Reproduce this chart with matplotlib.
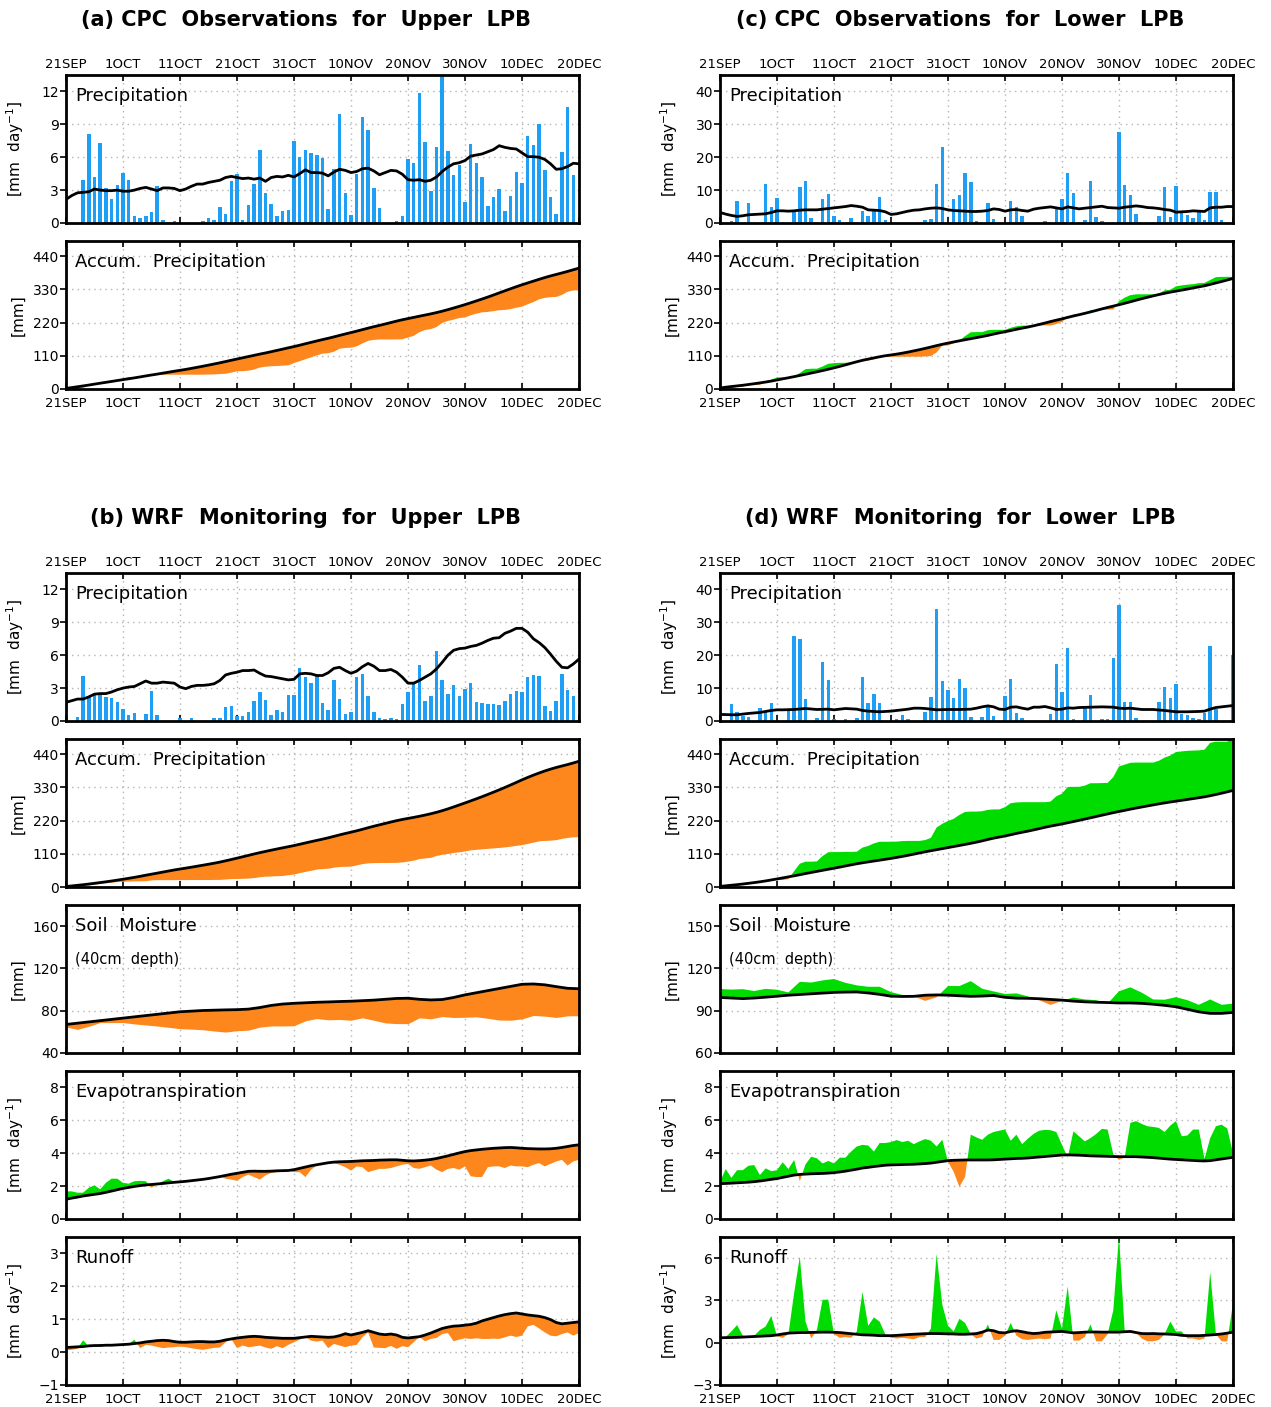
import numpy as np
import matplotlib
matplotlib.use('Agg')
import matplotlib.pyplot as plt

# days since 21 SEP, daily data (0..90 -> 21SEP..20DEC)
days = np.arange(91)
days2 = np.arange(0, 91, 2)   # soil moisture is stored every 2 days

date_ticks = [0, 10, 20, 30, 40, 50, 60, 70, 80, 90]
date_labels = ['21SEP', '1OCT', '11OCT', '21OCT', '31OCT', '10NOV', '20NOV', '30NOV', '10DEC', '20DEC']

# ---- (a) CPC observations, upper LPB ----
cpc_up_prcp = [0, 0, 0, 3.9, 8.1, 4.2, 7.3, 3.2, 2.2, 3.5,
               4.6, 3.9, 0.6, 0.45, 0.6, 1.0, 3.4, 0.25, 0, 0.15,
               0, 0, 0, 0, 0.15, 0.45, 0.25, 1.45, 0.8, 3.8,
               4.5, 0.25, 1.65, 3.6, 6.7, 2.75, 1.75, 0.65, 1.1, 1.15,
               7.5, 6.0, 6.7, 6.4, 6.2, 5.95, 1.3, 4.9, 9.9, 2.75,
               0.75, 4.5, 9.7, 8.5, 3.2, 1.35, 0, 0, 0.15, 0.6,
               5.8, 5.5, 11.9, 7.4, 2.9, 6.95, 13.5, 6.6, 4.4, 5.3,
               1.9, 7.2, 5.5, 4.2, 1.55, 2.4, 3.1, 1.1, 2.5, 4.65,
               3.65, 7.9, 7.15, 9.05, 4.85, 2.4, 0.8, 6.5, 10.6, 4.4,
               0]
cpc_up_clim = [2.15, 2.5, 2.75, 2.8, 2.85, 3.1, 3.0, 2.95, 2.95, 3.0,
               2.9, 2.9, 3.0, 3.15, 3.25, 3.1, 2.95, 3.2, 3.2, 3.15,
               2.95, 3.1, 3.35, 3.55, 3.55, 3.7, 3.8, 3.9, 4.15, 4.25,
               4.15, 4.05, 4.1, 4.0, 4.1, 3.8, 4.15, 4.25, 4.2, 4.35,
               4.2, 4.5, 4.85, 4.6, 4.6, 4.55, 4.3, 4.65, 4.9, 4.8,
               4.6, 4.7, 4.95, 5.0, 4.75, 4.4, 4.6, 4.8, 4.75, 4.45,
               3.95, 3.9, 3.95, 3.8, 3.9, 4.2, 4.7, 5.1, 5.4, 5.5,
               5.7, 6.1, 6.2, 6.3, 6.5, 6.7, 7.05, 6.9, 6.8, 6.75,
               6.4, 6.05, 6.05, 6.0, 5.8, 5.4, 4.9, 4.95, 5.15, 5.45,
               5.4]

# ---- (c) CPC observations, lower LPB ----
cpc_lo_prcp = [0, 0, 0.7, 6.8, 0, 6.2, 0, 0, 12.0, 5.0,
               7.7, 0, 0, 3.5, 10.8, 12.9, 1.6, 0, 7.4, 8.9,
               2.2, 1.0, 0, 1.6, 0, 3.6, 2.2, 3.7, 8.0, 1.0,
               0, 0, 0, 0, 0, 0, 0.9, 1.3, 12.0, 23.0,
               0, 7.4, 8.6, 15.3, 12.6, 0.6, 0, 6.2, 1.2, 0,
               0, 6.8, 4.9, 2.2, 0, 0, 0, 0.6, 0, 4.5,
               7.4, 15.3, 9.0, 0, 1.0, 12.9, 1.9, 0.6, 0, 0,
               27.6, 11.7, 8.4, 2.8, 0, 0, 0, 2.2, 11.0, 1.8,
               11.4, 3.0, 2.5, 1.6, 3.3, 1.0, 9.5, 9.5, 1.0, 0,
               0]
cpc_lo_clim = [3.2, 2.7, 2.3, 2.0, 2.2, 2.5, 2.6, 2.7, 2.8, 3.2,
               3.7, 3.7, 3.6, 3.7, 3.9, 4.0, 4.0, 4.0, 4.2, 4.4,
               4.6, 4.8, 5.0, 5.3, 5.1, 4.8, 4.0, 3.9, 3.8, 3.4,
               2.6, 2.8, 3.2, 3.6, 3.9, 4.0, 4.3, 4.5, 4.6, 4.4,
               4.0, 3.8, 3.7, 3.6, 3.5, 3.5, 3.6, 3.8, 4.3, 4.1,
               3.6, 4.0, 4.1, 3.8, 3.6, 4.2, 4.5, 4.7, 4.9, 4.6,
               4.3, 4.9, 4.6, 4.3, 4.5, 4.7, 4.9, 5.1, 4.7, 4.6,
               4.5, 4.8, 5.0, 5.2, 5.0, 4.7, 4.6, 4.4, 4.1, 3.9,
               3.3, 3.4, 3.5, 3.7, 3.6, 3.5, 4.6, 4.8, 4.8, 5.0,
               5.0]

# ---- (b) WRF monitoring, upper LPB ----
wrf_up_prcp = [0.5, 0, 0.35, 4.1, 2.2, 2.45, 2.35, 2.2, 2.1, 1.75,
               1.1, 0.55, 0.75, 0, 0.6, 2.75, 0.55, 0, 0, 0,
               0.25, 0, 0.25, 0, 0, 0, 0.25, 0.25, 1.25, 1.35,
               0.45, 0.45, 0.8, 1.8, 2.65, 1.9, 0.55, 1.0, 0.8, 2.4,
               2.4, 4.85, 4.0, 3.5, 4.15, 1.6, 1.0, 3.75, 2.0, 0.65,
               0.8, 4.0, 4.3, 2.3, 0.8, 0.25, 0.15, 0.25, 0.15, 1.55,
               2.65, 3.5, 5.1, 1.8, 2.3, 6.4, 3.75, 2.5, 3.3, 2.3,
               2.95, 3.5, 1.7, 1.6, 1.55, 1.55, 1.45, 1.8, 2.45, 2.7,
               2.65, 4.0, 4.2, 4.1, 1.35, 0.9, 1.8, 4.3, 2.85, 2.3,
               0]
wrf_up_prcp_clim = [1.7, 1.85, 2.0, 2.0, 2.2, 2.45, 2.5, 2.5, 2.65, 2.85,
                    3.0, 3.1, 3.15, 3.4, 3.65, 3.45, 3.45, 3.55, 3.5, 3.45,
                    3.1, 2.95, 3.15, 3.25, 3.25, 3.3, 3.4, 3.7, 4.2, 4.35,
                    4.45, 4.6, 4.6, 4.65, 4.35, 4.1, 4.05, 3.95, 3.85, 3.75,
                    3.8, 4.3, 4.35, 4.3, 4.15, 4.15, 4.4, 4.8, 4.9, 4.6,
                    4.35, 4.55, 4.95, 5.25, 5.0, 4.6, 4.6, 4.7, 4.45, 4.0,
                    3.45, 3.45, 3.7, 4.0, 4.3, 4.75, 5.35, 6.0, 6.45, 6.6,
                    6.65, 6.8, 6.9, 7.1, 7.35, 7.55, 7.6, 8.0, 8.2, 8.45,
                    8.45, 8.1, 7.5, 7.15, 6.7, 6.1, 5.45, 4.9, 4.85, 5.2,
                    5.65]
wrf_up_soil = [64.6, 62.4, 65.3, 68.8, 68.8, 68.8, 67.5, 66.5, 65.5, 64.3,
               63.0, 62.6, 62.0, 60.8, 59.8, 61.1, 61.6, 64.5, 65.6, 65.6,
               65.8, 70.5, 72.6, 71.4, 71.7, 71.0, 73.3, 71.0, 68.5, 67.8,
               67.8, 73.3, 72.3, 74.5, 73.6, 73.8, 74.2, 72.8, 71.2, 71.0,
               72.3, 75.5, 74.9, 73.6, 75.2, 75.2]
wrf_up_soil_clim = [67, 68.2, 69.4, 70.6, 71.8, 73, 74.2, 75.4, 76.6, 77.8,
                    79, 79.6, 80.2, 80.5, 80.8, 81, 81.5, 83, 85, 86.3,
                    87, 87.5, 88, 88.3, 88.7, 89, 89.5, 90, 90.8, 91.6,
                    91.8, 90.8, 90.2, 90.6, 92.5, 95, 97, 99, 101, 103,
                    105, 105.3, 104.5, 102.8, 101.2, 100.8]
wrf_up_et = [1.68, 1.68, 1.6, 1.6, 1.9, 2.05, 1.8, 2.2, 2.45, 2.45,
             2.2, 2.15, 2.3, 2.32, 2.3, 1.9, 2.1, 2.3, 2.45, 2.25,
             2.28, 2.33, 2.35, 2.3, 2.42, 2.48, 2.55, 2.6, 2.45, 2.4,
             2.32, 2.55, 2.7, 2.55, 2.4, 2.65, 2.8, 2.85, 2.9, 2.95,
             2.85, 2.85, 2.55, 3.0, 3.25, 3.35, 3.4, 3.4, 3.3, 3.15,
             2.95, 3.2, 3.15, 2.85, 2.95, 3.05, 3.05, 3.1, 3.2, 3.3,
             3.35, 3.1, 3.05, 3.15, 3.25, 3.0, 2.85, 3.05, 3.1, 3.0,
             3.2, 2.6, 2.55, 2.55, 3.15, 3.2, 3.2, 3.1, 3.25, 3.2,
             3.2, 3.15, 3.3, 3.4, 3.2, 3.35, 3.5, 3.6, 3.25, 3.5,
             3.6]
wrf_up_et_clim = [1.2, 1.27, 1.33, 1.4, 1.45, 1.5, 1.55, 1.62, 1.7, 1.78,
                  1.86, 1.92, 1.98, 2.03, 2.07, 2.1, 2.13, 2.16, 2.2, 2.23,
                  2.26, 2.29, 2.33, 2.37, 2.41, 2.46, 2.52, 2.58, 2.65, 2.72,
                  2.78, 2.84, 2.9, 2.91, 2.9, 2.9, 2.91, 2.93, 2.94, 2.95,
                  3.0, 3.08, 3.16, 3.24, 3.3, 3.36, 3.42, 3.46, 3.48, 3.49,
                  3.5, 3.52, 3.54, 3.55, 3.56, 3.58, 3.59, 3.6, 3.6, 3.57,
                  3.54, 3.53, 3.55, 3.58, 3.62, 3.68, 3.76, 3.84, 3.93, 4.02,
                  4.1, 4.16, 4.2, 4.24, 4.27, 4.3, 4.32, 4.34, 4.35, 4.33,
                  4.3, 4.28, 4.27, 4.26, 4.26, 4.27, 4.3, 4.35, 4.41, 4.47,
                  4.51]
wrf_up_ro = [0.06, 0.07, 0.1, 0.36, 0.17, 0.19, 0.25, 0.2, 0.22, 0.21,
             0.23, 0.24, 0.38, 0.12, 0.22, 0.2, 0.16, 0.12, 0.14, 0.15,
             0.17, 0.15, 0.12, 0.09, 0.07, 0.1, 0.13, 0.14, 0.3, 0.4,
             0.12, 0.2, 0.15, 0.17, 0.2, 0.14, 0.1, 0.18, 0.12, 0.22,
             0.3, 0.38, 0.46, 0.35, 0.32, 0.35, 0.12, 0.25, 0.2, 0.15,
             0.2, 0.22, 0.45, 0.6, 0.14, 0.13, 0.12, 0.19, 0.1, 0.18,
             0.15, 0.3, 0.46, 0.33, 0.4, 0.43, 0.55, 0.58, 0.33, 0.38,
             0.42, 0.4, 0.42, 0.4, 0.4, 0.41, 0.4, 0.45, 0.5, 0.46,
             0.5, 0.78, 0.83, 0.72, 0.6, 0.5, 0.48, 0.55, 0.6, 0.5,
             0.58]
wrf_up_ro_clim = [0.14, 0.15, 0.16, 0.17, 0.19, 0.2, 0.2, 0.21, 0.21, 0.22,
                  0.23, 0.24, 0.26, 0.28, 0.31, 0.33, 0.35, 0.36, 0.35, 0.32,
                  0.30, 0.30, 0.31, 0.32, 0.32, 0.31, 0.31, 0.33, 0.37, 0.40,
                  0.43, 0.45, 0.47, 0.48, 0.47, 0.45, 0.44, 0.43, 0.42, 0.42,
                  0.42, 0.44, 0.46, 0.48, 0.47, 0.46, 0.45, 0.46, 0.5, 0.56,
                  0.52, 0.56, 0.6, 0.65, 0.6, 0.55, 0.53, 0.55, 0.52, 0.45,
                  0.43, 0.45, 0.47, 0.52, 0.58, 0.65, 0.72, 0.76, 0.79, 0.8,
                  0.82, 0.84, 0.88, 0.95, 1.0, 1.05, 1.1, 1.14, 1.17, 1.19,
                  1.16, 1.13, 1.11, 1.09, 1.05, 0.99, 0.9, 0.86, 0.88, 0.9,
                  0.92]

# ---- (d) WRF monitoring, lower LPB ----
wrf_lo_prcp = [0, 0, 5.2, 2.8, 1.6, 1.3, 0, 4.0, 2.7, 5.5,
               0, 0, 3.5, 25.7, 24.8, 6.8, 0, 0.9, 17.8, 12.6,
               0.5, 0, 0.5, 0, 0.8, 13.5, 5.5, 8.3, 5.5, 0,
               0, 0.5, 1.8, 0.5, 0, 0, 2.8, 7.3, 34.2, 12.3,
               9.5, 7.0, 12.9, 9.9, 1.2, 0, 1.2, 4.5, 1.5, 0,
               7.6, 12.9, 2.5, 0.9, 0, 0, 0, 0, 2.1, 17.2,
               8.9, 22.1, 0.5, 0, 4.0, 8.0, 0, 0.5, 0.5, 19.3,
               35.4, 5.9, 5.9, 0.9, 0, 0, 0, 5.9, 10.4, 7.1,
               11.4, 2.2, 1.8, 0.9, 0.6, 2.5, 22.7, 3.5, 0, 0,
               20.0]
wrf_lo_prcp_clim = [2.0, 1.95, 1.9, 1.9, 2.1, 2.3, 2.45, 2.6, 2.9, 3.2,
                    3.4, 3.4, 3.45, 3.5, 3.65, 3.8, 3.65, 3.5, 3.55, 3.6,
                    3.4, 3.6, 3.8, 3.7, 3.6, 3.2, 3.0, 2.9, 2.8, 2.9,
                    3.0, 3.2, 3.4, 3.6, 3.9, 3.9, 3.8, 3.6, 3.4, 3.45,
                    3.5, 3.5, 3.5, 3.55, 3.6, 3.9, 4.3, 4.6, 4.3, 3.6,
                    3.5, 4.2, 4.3, 3.9, 3.6, 4.2, 4.2, 4.4, 4.0, 3.5,
                    3.6, 4.0, 3.9, 4.1, 4.15, 4.2, 4.25, 4.3, 4.25, 4.2,
                    3.9, 3.8, 3.9, 3.7, 3.5, 3.5, 3.5, 3.35, 3.2, 3.0,
                    2.8, 2.8, 2.8, 2.85, 2.9, 3.0, 3.6, 4.1, 4.3, 4.5,
                    4.7]
wrf_lo_soil = [105.4, 105.0, 105.3, 104.0, 105.5, 104.9, 103.0, 110.5, 110.0, 111.5,
               112.5, 109.8, 108.0, 107.0, 107.0, 103.2, 101.2, 100.1, 97.0, 99.5,
               107.5, 107.5, 111.0, 105.6, 103.7, 101.9, 102.3, 100.2, 97.5, 94.1,
               97.0, 99.4, 98.0, 97.5, 95.0, 103.8, 106.6, 102.8, 98.0, 97.8,
               99.6, 97.5, 94.2, 98.0, 94.2, 95.0]
wrf_lo_soil_clim = [99.4, 99.0, 98.6, 99.0, 99.6, 100.3, 101.0, 101.5, 102.0, 102.5,
                    103.0, 103.2, 103.3, 102.6, 101.6, 100.3, 100.1, 100.2, 101.0, 101.2,
                    101.0, 100.6, 100.2, 100.4, 100.8, 99.5, 98.9, 98.8, 98.5, 98.0,
                    97.5, 96.8, 96.3, 96.0, 95.8, 95.5, 95.5, 95.2, 94.6, 93.8,
                    92.8, 91.0, 89.2, 88.1, 88.1, 88.8]
wrf_lo_et = [2.26, 3.04, 2.5, 2.97, 2.97, 3.24, 3.28, 2.67, 3.08, 2.91,
             2.97, 3.45, 3.04, 3.59, 2.3, 3.32, 3.79, 3.69, 3.38, 3.53,
             3.38, 3.73, 3.73, 4.1, 4.41, 4.51, 4.47, 4.1, 4.62, 4.62,
             4.68, 4.8, 4.68, 4.76, 4.55, 4.72, 4.86, 4.76, 4.41, 4.82,
             3.49, 2.87, 1.95, 2.56, 5.13, 4.96, 4.82, 5.13, 5.29, 5.37,
             5.44, 4.76, 5.13, 4.55, 4.88, 5.17, 5.37, 5.42, 5.4, 5.29,
             4.51, 3.73, 5.33, 5.03, 4.72, 4.92, 5.17, 5.48, 5.44, 3.94,
             3.59, 3.75, 5.85, 5.95, 5.78, 5.64, 5.6, 5.54, 5.29, 5.68,
             5.95, 5.03, 5.08, 5.44, 5.44, 3.65, 4.92, 5.64, 5.74, 5.5,
             4.0]
wrf_lo_et_clim = [2.15, 2.16, 2.18, 2.2, 2.22, 2.24, 2.27, 2.31, 2.36, 2.41,
                  2.46, 2.53, 2.6, 2.67, 2.71, 2.73, 2.75, 2.76, 2.77, 2.79,
                  2.82, 2.86, 2.91, 2.97, 3.03, 3.1, 3.14, 3.19, 3.23, 3.27,
                  3.29, 3.3, 3.31, 3.32, 3.33, 3.35, 3.37, 3.4, 3.45, 3.5,
                  3.55, 3.57, 3.58, 3.59, 3.59, 3.59, 3.59, 3.59, 3.6, 3.62,
                  3.64, 3.66, 3.68, 3.69, 3.71, 3.74, 3.77, 3.8, 3.83, 3.86,
                  3.89, 3.9, 3.89, 3.88, 3.86, 3.84, 3.83, 3.82, 3.81, 3.8,
                  3.79, 3.79, 3.79, 3.79, 3.77, 3.75, 3.73, 3.7, 3.67, 3.64,
                  3.62, 3.6, 3.58, 3.56, 3.54, 3.53, 3.55, 3.6, 3.65, 3.7,
                  3.75]
wrf_lo_ro = [0.3, 0.4, 0.8, 1.25, 0.5, 0.45, 0.5, 0.9, 1.15, 1.9,
             0.45, 0.35, 0.6, 3.5, 6.1, 1.5, 0.3, 0.9, 3.05, 3.05,
             0.6, 0.35, 0.4, 0.35, 0.8, 3.6, 1.2, 1.8, 1.5, 0.6,
             0.35, 0.3, 0.35, 0.3, 0.25, 0.4, 0.4, 1.0, 6.3, 2.7,
             1.2, 0.8, 1.7, 1.4, 0.6, 0.3, 0.4, 1.3, 0.2, 0.2,
             0.5, 1.4, 0.5, 0.25, 0.2, 0.25, 0.3, 0.25, 0.3, 2.3,
             1.0, 4.0, 0.15, 0.15, 0.4, 1.3, 0.1, 0.1, 0.6, 2.3,
             7.6, 0.8, 0.8, 0.7, 0.3, 0.1, 0.1, 0.2, 0.6, 1.5,
             0.8, 0.8, 0.3, 0.3, 0.2, 0.3, 5.0, 0.6, 0.1, 0.1,
             2.8]
wrf_lo_ro_clim = [0.35, 0.36, 0.37, 0.38, 0.4, 0.42, 0.44, 0.46, 0.48, 0.5,
                  0.55, 0.62, 0.68, 0.7, 0.72, 0.72, 0.73, 0.74, 0.75, 0.75,
                  0.74, 0.72, 0.68, 0.64, 0.6, 0.56, 0.55, 0.53, 0.5, 0.5,
                  0.5, 0.52, 0.55, 0.58, 0.6, 0.62, 0.64, 0.65, 0.65, 0.64,
                  0.63, 0.62, 0.6, 0.6, 0.62, 0.65, 0.75, 0.9, 0.85, 0.72,
                  0.7, 0.8, 0.85, 0.78, 0.7, 0.65, 0.68, 0.74, 0.76, 0.78,
                  0.8, 0.75, 0.7, 0.72, 0.75, 0.76, 0.76, 0.75, 0.75, 0.75,
                  0.75, 0.78, 0.8, 0.72, 0.65, 0.64, 0.65, 0.63, 0.62, 0.6,
                  0.58, 0.52, 0.5, 0.5, 0.5, 0.52, 0.55, 0.58, 0.62, 0.68,
                  0.75]

BLUE = '#1e9ef5'
GREEN = '#00dc00'
ORANGE = '#fd871c'
GRIDC = '#b4b4b4'
UNIT_DAY = '[mm  day$^{-1}$]'

W, H = 1271, 1407
fig = plt.figure(figsize=(W / 100, H / 100), dpi=100)
plt.rcParams['font.family'] = 'DejaVu Sans'


def make_ax(left, top, ylim, yticks, ylabel, text, top_dates=False, bottom_dates=False):
    ax = fig.add_axes([left / W, 1 - (top + 148) / H, 513 / W, 148 / H])
    ax.set_xlim(0, 90)
    ax.set_ylim(*ylim)
    ax.set_yticks(yticks)
    ax.set_xticks(date_ticks)
    ax.grid(True, color=GRIDC, linestyle=(0, (1, 3)), linewidth=1)
    ax.set_axisbelow(True)
    for s in ax.spines.values():
        s.set_linewidth(2)
    ax.tick_params(axis='y', direction='out', length=4, width=1.2, labelsize=10, pad=1)
    ax.tick_params(axis='x', direction='in', length=4, width=1.2, labelsize=9.5,
                   top=True, bottom=True, labeltop=top_dates, labelbottom=bottom_dates, pad=6)
    ax.set_xticklabels(date_labels)
    ax.set_ylabel(ylabel, fontsize=11)
    ax.yaxis.set_label_coords(-0.078, 0.5)
    ax.text(0.018, 0.92, text, transform=ax.transAxes, fontsize=13, va='top', ha='left')
    return ax


def bar_panel(ax, prcp, clim):
    ax.bar(days, prcp, width=0.62, color=BLUE, zorder=2)
    ax.plot(days, clim, color='black', lw=2, zorder=3)


def anom_panel(ax, x, model, clim):
    model = np.asarray(model)
    clim = np.asarray(clim)
    ax.fill_between(x, clim, model, where=model >= clim, interpolate=True,
                    color=GREEN, lw=0, zorder=2)
    ax.fill_between(x, clim, model, where=model < clim, interpolate=True,
                    color=ORANGE, lw=0, zorder=2)
    ax.plot(x, clim, color='black', lw=2, zorder=3)


ACC_TICKS = [0, 110, 220, 330, 440]

for left, title, prcp, clim, pticks, plim in [
        (66, '(a) CPC  Observations  for  Upper  LPB', cpc_up_prcp, cpc_up_clim, [0, 3, 6, 9, 12], (0, 13.5)),
        (720, '(c) CPC  Observations  for  Lower  LPB', cpc_lo_prcp, cpc_lo_clim, [0, 10, 20, 30, 40], (0, 45))]:
    fig.text((left + 240) / W, 1 - 20 / H, title, fontsize=15, fontweight='bold', ha='center', va='center')
    ax = make_ax(left, 75, plim, pticks, UNIT_DAY, 'Precipitation', top_dates=True)
    ax.tick_params(axis='x', pad=3)
    bar_panel(ax, prcp, clim)
    ax = make_ax(left, 241, (0, 490), ACC_TICKS, '[mm]', 'Accum.  Precipitation', bottom_dates=True)
    anom_panel(ax, days, np.cumsum(prcp), np.cumsum(clim))

for left, title, prcp, pclim, pticks, plim, soil, sclim, sticks, slim, et, eclim, ro, rclim, rticks, rlim in [
        (66, '(b) WRF  Monitoring  for  Upper  LPB', wrf_up_prcp, wrf_up_prcp_clim, [0, 3, 6, 9, 12], (0, 13.5),
         wrf_up_soil, wrf_up_soil_clim, [40, 80, 120, 160], (40, 180),
         wrf_up_et, wrf_up_et_clim, wrf_up_ro, wrf_up_ro_clim, [-1, 0, 1, 2, 3], (-1, 3.5)),
        (720, '(d) WRF  Monitoring  for  Lower  LPB', wrf_lo_prcp, wrf_lo_prcp_clim, [0, 10, 20, 30, 40], (0, 45),
         wrf_lo_soil, wrf_lo_soil_clim, [60, 90, 120, 150], (60, 165),
         wrf_lo_et, wrf_lo_et_clim, wrf_lo_ro, wrf_lo_ro_clim, [-3, 0, 3, 6], (-3, 7.5))]:
    fig.text((left + 240) / W, 1 - 518 / H, title, fontsize=15, fontweight='bold', ha='center', va='center')
    ax = make_ax(left, 573, plim, pticks, UNIT_DAY, 'Precipitation', top_dates=True)
    ax.tick_params(axis='x', pad=3)
    bar_panel(ax, prcp, pclim)
    ax = make_ax(left, 739, (0, 490), ACC_TICKS, '[mm]', 'Accum.  Precipitation')
    anom_panel(ax, days, np.cumsum(prcp), np.cumsum(pclim))
    ax = make_ax(left, 905, slim, sticks, '[mm]', 'Soil  Moisture')
    ax.text(0.018, 0.68, '(40cm  depth)', transform=ax.transAxes, fontsize=10.5, va='top', ha='left')
    anom_panel(ax, days2, soil, sclim)
    ax = make_ax(left, 1071, (0, 9), [0, 2, 4, 6, 8], UNIT_DAY, 'Evapotranspiration')
    anom_panel(ax, days, et, eclim)
    ax = make_ax(left, 1237, rlim, rticks, UNIT_DAY, 'Runoff', bottom_dates=True)
    anom_panel(ax, days, ro, rclim)

fig.savefig('out.png', dpi=100)
